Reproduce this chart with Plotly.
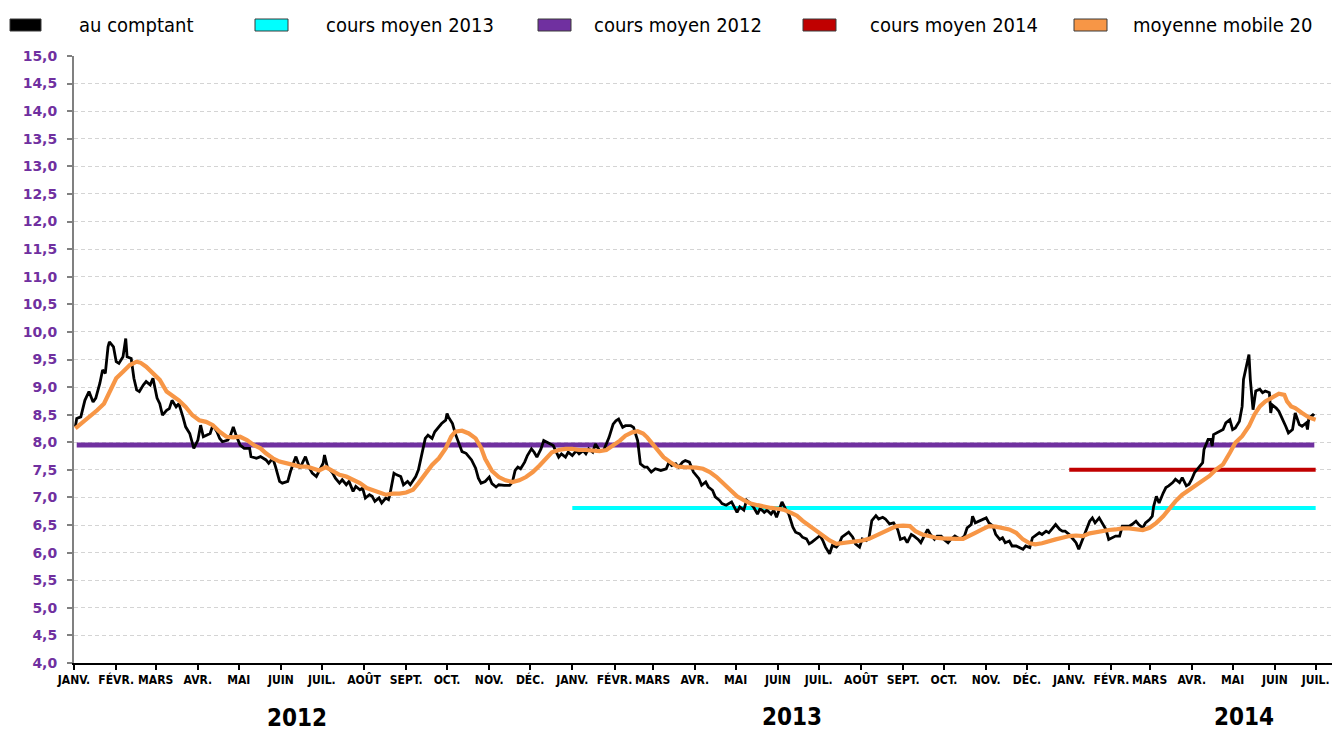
import plotly.graph_objects as go

# ---------------- data ----------------
spot_dates = [
    "2012-01-02","2012-01-03","2012-01-06","2012-01-09","2012-01-12","2012-01-15","2012-01-17","2012-01-20",
    "2012-01-22","2012-01-24","2012-01-26","2012-01-27","2012-01-30","2012-02-01","2012-02-03","2012-02-06",
    "2012-02-08","2012-02-09","2012-02-12","2012-02-14","2012-02-16","2012-02-18","2012-02-21","2012-02-23",
    "2012-02-26","2012-02-28","2012-03-02","2012-03-04","2012-03-06","2012-03-09","2012-03-11","2012-03-13",
    "2012-03-16","2012-03-18","2012-03-21","2012-03-23","2012-03-26","2012-03-28","2012-03-29","2012-04-01",
    "2012-04-03","2012-04-05","2012-04-07","2012-04-10","2012-04-12","2012-04-15","2012-04-17","2012-04-19",
    "2012-04-23","2012-04-25","2012-04-27","2012-04-29","2012-05-02","2012-05-05","2012-05-09","2012-05-10",
    "2012-05-14","2012-05-17","2012-05-21","2012-05-23","2012-05-26","2012-05-28","2012-05-31","2012-06-02",
    "2012-06-06","2012-06-08","2012-06-11","2012-06-12","2012-06-15","2012-06-17","2012-06-19","2012-06-22",
    "2012-06-24","2012-06-27","2012-06-29","2012-07-02","2012-07-03","2012-07-05","2012-07-09","2012-07-11",
    "2012-07-14","2012-07-16","2012-07-19","2012-07-21","2012-07-24","2012-07-26","2012-07-29","2012-07-31",
    "2012-08-02","2012-08-05","2012-08-07","2012-08-09","2012-08-12","2012-08-14","2012-08-17","2012-08-19",
    "2012-08-20","2012-08-23","2012-08-25","2012-08-28","2012-08-30","2012-09-02","2012-09-04","2012-09-08",
    "2012-09-10","2012-09-13","2012-09-15","2012-09-17","2012-09-20","2012-09-22","2012-09-25","2012-09-27",
    "2012-09-30","2012-10-01","2012-10-02","2012-10-05","2012-10-07","2012-10-10","2012-10-12","2012-10-15",
    "2012-10-17","2012-10-19","2012-10-22","2012-10-24","2012-10-26","2012-10-29","2012-11-01","2012-11-03",
    "2012-11-06","2012-11-08","2012-11-12","2012-11-16","2012-11-18","2012-11-20","2012-11-22","2012-11-24",
    "2012-11-27","2012-11-29","2012-12-02","2012-12-04","2012-12-06","2012-12-09","2012-12-11","2012-12-13",
    "2012-12-16","2012-12-18","2012-12-22","2012-12-24","2012-12-27","2012-12-29",
    "2013-01-01","2013-01-04","2013-01-06","2013-01-09","2013-01-11","2013-01-13","2013-01-16","2013-01-18",
    "2013-01-21","2013-01-24","2013-01-28","2013-01-31","2013-02-02","2013-02-04","2013-02-07","2013-02-09",
    "2013-02-13","2013-02-15","2013-02-18","2013-02-20","2013-02-23","2013-02-25","2013-02-28","2013-03-03",
    "2013-03-07","2013-03-11","2013-03-13","2013-03-15","2013-03-18","2013-03-20","2013-03-23","2013-03-25",
    "2013-03-28","2013-03-31","2013-04-04","2013-04-06","2013-04-09","2013-04-11","2013-04-14","2013-04-16",
    "2013-04-19","2013-04-21","2013-04-24","2013-04-26","2013-04-28","2013-05-02","2013-05-04","2013-05-07",
    "2013-05-09","2013-05-12","2013-05-14","2013-05-17","2013-05-19","2013-05-22","2013-05-24","2013-05-27",
    "2013-05-29","2013-05-31","2013-06-02","2013-06-04","2013-06-07","2013-06-09","2013-06-12","2013-06-14",
    "2013-06-17","2013-06-19","2013-06-22","2013-06-24","2013-06-26","2013-06-29","2013-07-02","2013-07-04",
    "2013-07-06","2013-07-09","2013-07-11","2013-07-14","2013-07-16","2013-07-18","2013-07-21","2013-07-23",
    "2013-07-26","2013-07-28","2013-07-31","2013-08-02","2013-08-05","2013-08-07","2013-08-09","2013-08-12",
    "2013-08-14","2013-08-17","2013-08-19","2013-08-22","2013-08-25","2013-08-28","2013-08-30","2013-09-02",
    "2013-09-04","2013-09-07","2013-09-09","2013-09-12","2013-09-14","2013-09-16","2013-09-19","2013-09-21",
    "2013-09-24","2013-09-26","2013-09-29","2013-10-01","2013-10-04","2013-10-06","2013-10-09","2013-10-11",
    "2013-10-13","2013-10-16","2013-10-18","2013-10-21","2013-10-22","2013-10-24","2013-10-27","2013-10-29",
    "2013-11-01","2013-11-03","2013-11-06","2013-11-08","2013-11-11","2013-11-13","2013-11-15","2013-11-18",
    "2013-11-20","2013-11-23","2013-11-25","2013-11-28","2013-11-30","2013-12-03","2013-12-05","2013-12-07",
    "2013-12-10","2013-12-12","2013-12-15","2013-12-17","2013-12-20","2013-12-22","2013-12-25","2013-12-27",
    "2013-12-29",
    "2014-01-01","2014-01-03","2014-01-06","2014-01-08","2014-01-11","2014-01-13","2014-01-16","2014-01-18",
    "2014-01-20","2014-01-23","2014-01-25","2014-01-28","2014-01-30","2014-02-02","2014-02-04","2014-02-07",
    "2014-02-09","2014-02-11","2014-02-14","2014-02-16","2014-02-19","2014-02-21","2014-02-24","2014-02-26",
    "2014-03-01","2014-03-03","2014-03-04","2014-03-06","2014-03-08","2014-03-11","2014-03-13","2014-03-15",
    "2014-03-18","2014-03-20","2014-03-23","2014-03-25","2014-03-28","2014-03-30","2014-04-01","2014-04-03",
    "2014-04-06","2014-04-09","2014-04-10","2014-04-13","2014-04-15","2014-04-16","2014-04-17","2014-04-21",
    "2014-04-24","2014-04-26","2014-04-29","2014-05-01","2014-05-03","2014-05-06","2014-05-08","2014-05-09",
    "2014-05-12","2014-05-13","2014-05-14","2014-05-16","2014-05-18","2014-05-21","2014-05-23","2014-05-25",
    "2014-05-28","2014-05-29","2014-05-30","2014-06-02","2014-06-04","2014-06-07","2014-06-09","2014-06-11",
    "2014-06-14","2014-06-16","2014-06-19","2014-06-21","2014-06-24","2014-06-25","2014-06-26","2014-06-29",
    "2014-06-30",
]
spot_values = [
    8.28,8.43,8.46,8.76,8.92,8.73,8.80,9.07,
    9.31,9.25,9.73,9.82,9.73,9.46,9.43,9.55,
    9.88,9.55,9.52,9.16,8.95,8.92,9.04,9.10,
    9.04,9.16,8.80,8.70,8.49,8.58,8.61,8.76,
    8.64,8.70,8.46,8.28,8.16,7.95,7.89,8.04,
    8.31,8.10,8.13,8.16,8.31,8.19,8.07,8.01,
    8.04,8.13,8.28,8.13,7.95,7.89,7.89,7.74,
    7.71,7.74,7.68,7.62,7.71,7.56,7.29,7.26,
    7.29,7.47,7.68,7.74,7.53,7.65,7.74,7.53,
    7.44,7.38,7.47,7.62,7.77,7.56,7.44,7.35,
    7.26,7.32,7.23,7.29,7.11,7.20,7.14,7.17,
    6.99,7.05,7.02,6.93,6.99,6.90,6.99,6.96,
    7.05,7.44,7.41,7.38,7.23,7.29,7.23,7.38,
    7.50,7.86,8.07,8.13,8.07,8.19,8.28,8.34,
    8.40,8.52,8.46,8.34,8.16,7.98,7.83,7.80,
    7.74,7.68,7.53,7.35,7.26,7.29,7.37,7.25,
    7.19,7.23,7.22,7.22,7.28,7.49,7.55,7.52,
    7.64,7.76,7.88,7.82,7.73,7.88,8.03,8.00,
    7.97,7.94,7.73,7.79,7.73,7.82,
    7.76,7.85,7.79,7.85,7.79,7.88,7.82,7.97,
    7.85,7.85,8.09,8.33,8.39,8.42,8.27,8.30,
    8.30,8.27,8.03,7.61,7.55,7.55,7.46,7.52,
    7.49,7.52,7.64,7.58,7.61,7.55,7.64,7.67,
    7.64,7.46,7.34,7.22,7.28,7.19,7.13,7.01,
    6.95,6.89,6.86,6.89,6.92,6.73,6.83,6.77,
    6.95,6.89,6.83,6.70,6.80,6.73,6.77,6.70,
    6.77,6.64,6.77,6.92,6.77,6.70,6.46,6.37,
    6.34,6.28,6.25,6.16,6.19,6.25,6.31,6.22,
    6.10,5.98,6.13,6.10,6.16,6.28,6.34,6.37,
    6.28,6.16,6.10,6.25,6.22,6.28,6.58,6.67,
    6.61,6.64,6.61,6.52,6.54,6.42,6.24,6.27,
    6.18,6.33,6.30,6.24,6.18,6.27,6.42,6.33,
    6.24,6.30,6.30,6.24,6.18,6.24,6.30,6.27,
    6.24,6.30,6.45,6.51,6.66,6.54,6.57,6.60,
    6.63,6.54,6.48,6.33,6.24,6.27,6.18,6.21,
    6.12,6.12,6.09,6.06,6.12,6.09,6.27,6.30,
    6.36,6.33,6.39,6.36,6.45,6.51,6.42,6.39,
    6.39,
    6.33,6.27,6.18,6.06,6.24,6.39,6.57,6.63,
    6.54,6.63,6.54,6.42,6.24,6.27,6.30,6.30,
    6.48,6.48,6.48,6.51,6.57,6.51,6.45,6.54,
    6.60,6.66,6.84,7.02,6.90,7.08,7.18,7.21,
    7.27,7.33,7.27,7.36,7.21,7.24,7.33,7.45,
    7.54,7.63,7.87,8.05,8.05,7.93,8.14,8.20,
    8.23,8.35,8.41,8.23,8.26,8.38,8.65,9.14,
    9.50,9.59,9.14,8.59,8.93,8.96,8.90,8.93,
    8.90,8.53,8.68,8.62,8.56,8.41,8.29,8.17,
    8.23,8.53,8.32,8.29,8.35,8.23,8.44,8.50,
    8.48,
]

ma_dates = [
    "2012-01-02","2012-01-08","2012-01-13","2012-01-18","2012-01-23","2012-01-27","2012-02-01","2012-02-06",
    "2012-02-11","2012-02-16","2012-02-19","2012-02-23","2012-02-28","2012-03-04","2012-03-09","2012-03-14",
    "2012-03-18","2012-03-23","2012-03-28","2012-04-02","2012-04-07","2012-04-12","2012-04-17","2012-04-22",
    "2012-04-27","2012-05-02","2012-05-07","2012-05-12","2012-05-17","2012-05-21","2012-05-26","2012-05-31",
    "2012-06-05","2012-06-10","2012-06-15","2012-06-20","2012-06-24","2012-06-29","2012-07-04","2012-07-09",
    "2012-07-14","2012-07-19","2012-07-24","2012-07-29","2012-08-03","2012-08-07","2012-08-12","2012-08-17",
    "2012-08-22","2012-08-27","2012-09-01","2012-09-06","2012-09-10","2012-09-15","2012-09-20","2012-09-25",
    "2012-09-30","2012-10-04","2012-10-07","2012-10-12","2012-10-17","2012-10-22","2012-10-26","2012-10-29",
    "2012-11-03","2012-11-08","2012-11-13","2012-11-18","2012-11-23","2012-11-28","2012-12-03","2012-12-08",
    "2012-12-13","2012-12-17","2012-12-22","2012-12-27",
    "2013-01-01","2013-01-06","2013-01-11","2013-01-16","2013-01-21","2013-01-26","2013-01-31","2013-02-05",
    "2013-02-09","2013-02-14","2013-02-18","2013-02-22","2013-02-25","2013-03-01","2013-03-05","2013-03-09",
    "2013-03-14","2013-03-19","2013-03-24","2013-03-29","2013-04-02","2013-04-07","2013-04-12","2013-04-17",
    "2013-04-22","2013-04-27","2013-05-02","2013-05-07","2013-05-12","2013-05-17","2013-05-22","2013-05-27",
    "2013-05-31","2013-06-05","2013-06-10","2013-06-15","2013-06-19","2013-06-24","2013-06-29","2013-07-04",
    "2013-07-09","2013-07-14","2013-07-18","2013-07-23","2013-07-28","2013-08-02","2013-08-07","2013-08-12",
    "2013-08-17","2013-08-22","2013-08-27","2013-09-01","2013-09-06","2013-09-10","2013-09-15","2013-09-20",
    "2013-09-25","2013-09-30","2013-10-05","2013-10-10","2013-10-15","2013-10-20","2013-10-24","2013-10-29",
    "2013-11-03","2013-11-08","2013-11-13","2013-11-18","2013-11-23","2013-11-28","2013-12-03","2013-12-07",
    "2013-12-12","2013-12-17","2013-12-22","2013-12-27",
    "2014-01-01","2014-01-06","2014-01-11","2014-01-16","2014-01-20","2014-01-25","2014-01-30","2014-02-04",
    "2014-02-09","2014-02-14","2014-02-19","2014-02-24","2014-03-01","2014-03-06","2014-03-11","2014-03-15",
    "2014-03-20","2014-03-25","2014-03-30","2014-04-04","2014-04-09","2014-04-14","2014-04-19","2014-04-24",
    "2014-04-29","2014-05-03","2014-05-08","2014-05-13","2014-05-17","2014-05-21","2014-05-25","2014-05-30",
    "2014-06-04","2014-06-08","2014-06-10","2014-06-13","2014-06-16","2014-06-21","2014-06-26","2014-07-01",
]
ma_values = [
    8.25,8.37,8.46,8.58,8.70,8.92,9.16,9.28,
    9.40,9.46,9.44,9.37,9.25,9.13,8.92,8.83,
    8.76,8.64,8.49,8.40,8.37,8.31,8.19,8.10,
    8.09,8.10,8.04,7.95,7.89,7.80,7.71,7.65,
    7.61,7.59,7.56,7.56,7.53,7.49,7.55,7.47,
    7.41,7.38,7.33,7.26,7.17,7.14,7.10,7.05,
    7.07,7.07,7.09,7.14,7.26,7.44,7.59,7.71,
    7.89,8.10,8.19,8.21,8.16,8.07,7.90,7.70,
    7.48,7.37,7.31,7.28,7.31,7.37,7.46,7.58,
    7.70,7.82,7.86,7.88,
    7.88,7.86,7.86,7.85,7.84,7.86,7.94,8.03,
    8.12,8.18,8.20,8.16,8.09,7.97,7.85,7.73,
    7.64,7.56,7.55,7.55,7.54,7.52,7.46,7.37,
    7.25,7.13,7.02,6.95,6.89,6.86,6.83,6.81,
    6.80,6.78,6.73,6.67,6.58,6.49,6.40,6.31,
    6.22,6.16,6.17,6.19,6.19,6.22,6.25,6.31,
    6.37,6.42,6.48,6.49,6.48,6.39,6.33,6.30,
    6.27,6.26,6.25,6.25,6.25,6.30,6.36,6.42,
    6.48,6.47,6.45,6.42,6.36,6.24,6.17,6.15,
    6.17,6.21,6.24,6.27,
    6.30,6.31,6.30,6.35,6.37,6.39,6.41,6.42,
    6.44,6.44,6.43,6.41,6.45,6.54,6.66,6.78,
    6.93,7.05,7.13,7.21,7.30,7.39,7.51,7.60,
    7.81,7.99,8.11,8.29,8.50,8.65,8.74,8.81,
    8.88,8.86,8.74,8.65,8.62,8.53,8.45,8.41,
]

# yearly average price levels and their spans
avg_2012 = 7.95
avg_2013 = 6.81
avg_2014 = 7.50
avg_2012_span = ["2012-01-03", "2014-06-30"]
avg_2013_span = ["2013-01-01", "2014-07-01"]
avg_2014_span = ["2014-01-01", "2014-07-01"]

month_ticks = [
    "2012-01-01","2012-02-01","2012-03-01","2012-04-01","2012-05-01","2012-06-01","2012-07-01","2012-08-01",
    "2012-09-01","2012-10-01","2012-11-01","2012-12-01","2013-01-01","2013-02-01","2013-03-01","2013-04-01",
    "2013-05-01","2013-06-01","2013-07-01","2013-08-01","2013-09-01","2013-10-01","2013-11-01","2013-12-01",
    "2014-01-01","2014-02-01","2014-03-01","2014-04-01","2014-05-01","2014-06-01","2014-07-01",
]
month_names = ["JANV.","FÉVR.","MARS","AVR.","MAI","JUIN","JUIL.","AOÛT","SEPT.","OCT.","NOV.","DÉC."]
month_labels = [month_names[i % 12] for i in range(len(month_ticks))]

y_ticks = [4.0 + 0.5 * i for i in range(23)]
y_labels = [f"{v:.1f}".replace(".", ",") for v in y_ticks]

year_labels = ["2012", "2013", "2014"]
year_positions = ["2012-06-13", "2013-06-11", "2014-05-09"]

legend_names = ["au comptant", "cours moyen 2013", "cours moyen 2012", "cours moyen 2014", "moyenne mobile 20"]
legend_colors = ["#000000", "#00FFFF", "#7030A0", "#C00000", "#F79646"]

# ---------------- figure ----------------
W, H = 1332, 734
ML, MR, MT, MB = 74, 0, 56, 71
PW, PH = W - ML - MR, H - MT - MB


def px(x):
    return (x - ML) / PW


def py(y):
    return (H - MB - y) / PH


fig = go.Figure()

fig.add_trace(go.Scatter(x=avg_2012_span, y=[avg_2012, avg_2012], mode="lines",
                         line=dict(color=legend_colors[2], width=5), name=legend_names[2], hoverinfo="skip"))
fig.add_trace(go.Scatter(x=avg_2013_span, y=[avg_2013, avg_2013], mode="lines",
                         line=dict(color=legend_colors[1], width=4), name=legend_names[1], hoverinfo="skip"))
fig.add_trace(go.Scatter(x=avg_2014_span, y=[avg_2014, avg_2014], mode="lines",
                         line=dict(color=legend_colors[3], width=4), name=legend_names[3], hoverinfo="skip"))
fig.add_trace(go.Scatter(x=spot_dates, y=spot_values, mode="lines",
                         line=dict(color=legend_colors[0], width=2.8), name=legend_names[0]))
fig.add_trace(go.Scatter(x=ma_dates, y=ma_values, mode="lines",
                         line=dict(color=legend_colors[4], width=4.2), name=legend_names[4]))

# manual legend
swatch_x = [(10, 41), (255, 288), (538, 571), (803, 836), (1074, 1107)]
text_x = [77, 324, 592, 868, 1131]
cond_font = "DejaVu Sans Condensed, Liberation Sans Narrow, DejaVu Sans, sans-serif"
legend_font = dict(family=cond_font, size=20, color="#000000")
shapes = []
annotations = []
for name, color, (x0, x1), tx in zip(legend_names, legend_colors, swatch_x, text_x):
    shapes.append(dict(type="rect", xref="paper", yref="paper",
                       x0=px(x0), x1=px(x1), y0=py(31), y1=py(19),
                       fillcolor=color, line=dict(color="#3A3A3A", width=1), layer="above"))
    annotations.append(dict(text=name, xref="paper", yref="paper", x=px(tx), y=py(25),
                            xanchor="left", yanchor="middle", showarrow=False, font=legend_font))

year_y = [718, 717, 717]
for lab, pos, yy in zip(year_labels, year_positions, year_y):
    annotations.append(dict(text=f"<b>{lab}</b>", xref="x", yref="paper", x=pos, y=py(yy),
                            xanchor="center", yanchor="middle", showarrow=False,
                            font=dict(family=cond_font, size=24, color="#000000")))

fig.update_layout(
    width=W, height=H,
    margin=dict(l=ML, r=MR, t=MT, b=MB, autoexpand=False),
    paper_bgcolor="white", plot_bgcolor="white",
    showlegend=False,
    shapes=shapes, annotations=annotations,
    xaxis=dict(
        type="date", range=["2012-01-01", "2014-07-13"],
        tickmode="array", tickvals=month_ticks, ticktext=month_labels, tickangle=0,
        ticks="outside", ticklen=5, tickwidth=1.5, tickcolor="#000000",
        showline=True, linecolor="#000000", linewidth=2,
        showgrid=False, zeroline=False, automargin=False,
        tickfont=dict(family=cond_font, size=12, color="#000000", weight="bold"),
    ),
    yaxis=dict(
        range=[4, 15], tickmode="array", tickvals=y_ticks, ticktext=y_labels,
        ticks="outside", ticklen=5, tickwidth=1.5, tickcolor="#808080",
        showline=True, linecolor="#808080", linewidth=2,
        showgrid=True, gridcolor="#D4D4D4", gridwidth=1, griddash="4px,3px",
        zeroline=False, automargin=False, ticklabelstandoff=7,
        tickfont=dict(family="DejaVu Sans", size=14, color="#7030A0", weight="bold"),
    ),
)

fig.write_html("out.html", config={"displayModeBar": False},
               post_script="document.body.style.margin='0px';document.body.style.overflow='hidden';")
